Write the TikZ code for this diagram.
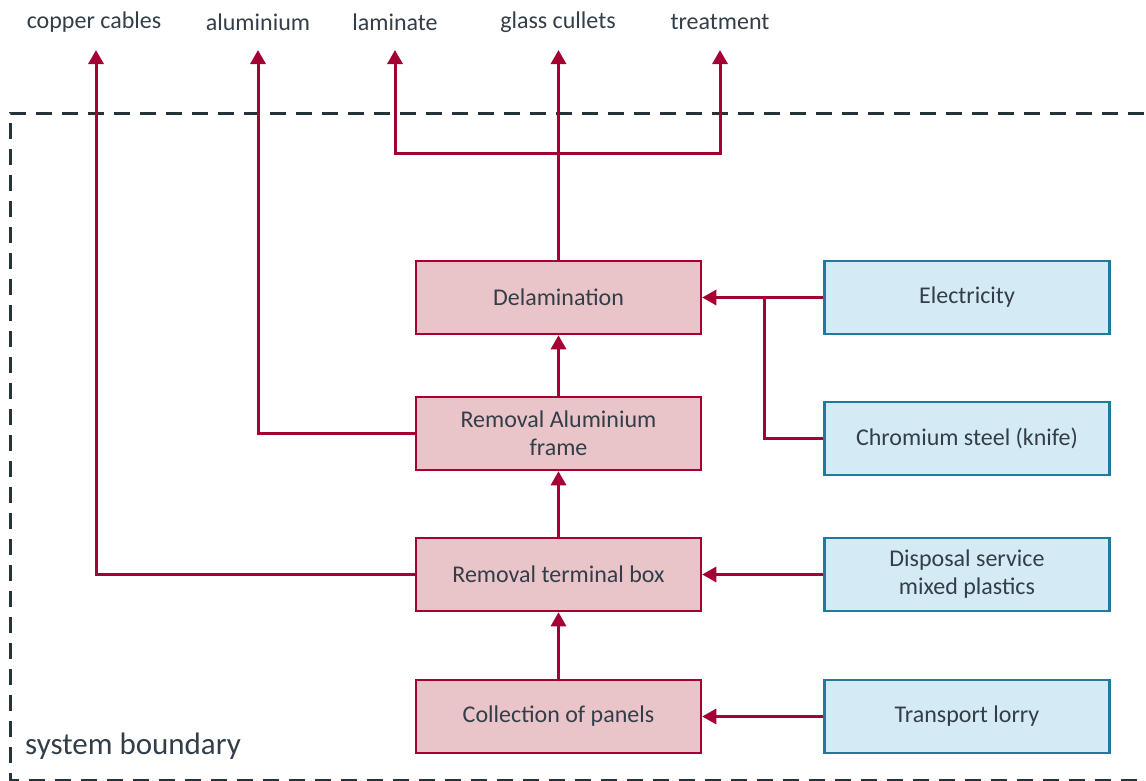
\documentclass[tikz,border=0pt]{standalone}
\usepackage{fontspec}
\setmainfont{Carlito}
\usetikzlibrary{arrows.meta}
\definecolor{crim}{HTML}{A50034}
\definecolor{pinkf}{HTML}{E9C4C9}
\definecolor{bluef}{HTML}{D4EBF6}
\definecolor{blued}{HTML}{1F7A9C}
\definecolor{txt}{HTML}{333E48}
\definecolor{bnd}{HTML}{26343A}
\begin{document}
\begin{tikzpicture}[x=1pt,y=-1pt,
  proc/.style={draw=crim, fill=pinkf, line width=2.5pt, minimum width=285pt, minimum height=73pt,
    text=txt, font=\fontsize{24}{28}\selectfont, align=center, inner sep=0pt},
  inp/.style={proc, draw=blued, fill=bluef},
  link/.style={draw=crim, line width=3pt},
  flow/.style={link, -{Triangle[length=14pt,width=15pt]}},
  lbl/.style={text=txt, font=\fontsize{24}{28}\selectfont, inner sep=0pt}]
\useasboundingbox (0,0) rectangle (1146,780);
% system boundary
\draw[bnd, line width=3pt, dash pattern=on 16pt off 10pt] (1170,113) -- (10,113) -- (10,780) -- (1170,780);
\node[anchor=west, text=txt, font=\fontsize{31}{36}\selectfont, inner sep=0pt] (sb) at (25,746) {system boundary};
% process boxes
\node[proc] (del) at (558.5,297.5) {Delamination};
\node[proc] (frame) at (558.5,433.5) {Removal Aluminium\\frame};
\node[proc] (term) at (558.5,574.5) {Removal terminal box};
\node[proc] (coll) at (558.5,716.5) {Collection of panels};
% input boxes
\node[inp] (elec) at (967,297.5) {Electricity};
\node[inp] (chrom) at (967,438.5) {Chromium steel (knife)};
\node[inp] (disp) at (967,574.5) {Disposal service\\mixed plastics};
\node[inp] (lorry) at (967,716.5) {Transport lorry};
% output labels
\node[lbl] (lcop) at (94,22) {copper cables};
\node[lbl] (lalu) at (258,22) {aluminium};
\node[lbl] (llam) at (395,22) {laminate};
\node[lbl] (lgla) at (558,22) {glass cullets};
\node[lbl] (ltre) at (720,22) {treatment};
\coordinate (tcop) at (96,50);
\coordinate (talu) at (258,50);
\coordinate (tlam) at (395,50);
\coordinate (tgla) at (558.5,50);
\coordinate (ttre) at (720,50);
\coordinate (br) at (558.5,153);
\coordinate (j1) at (764,297.5);
% flows
\draw[flow] (coll) -- (term);
\draw[flow] (term) -- (frame);
\draw[flow] (frame) -- (del);
\draw[flow] (del.north) -- (tgla);
\draw[flow] (br) -| (tlam);
\draw[flow] (br) -| (ttre);
\draw[flow] (frame.west) -| (talu);
\draw[flow] (term.west) -| (tcop);
\draw[flow] (elec.west) -- (del.east);
\draw[link] (chrom.west) -| (j1);
\draw[flow] (disp.west) -- (term.east);
\draw[flow] (lorry.west) -- (coll.east);
\end{tikzpicture}
\end{document}
